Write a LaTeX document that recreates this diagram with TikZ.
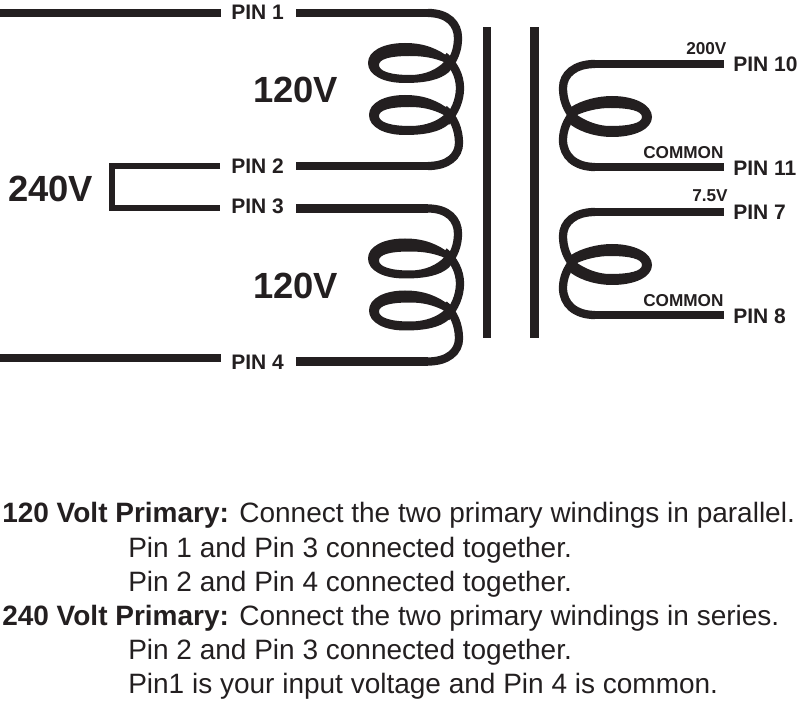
\documentclass[tikz,border=0pt]{standalone}
\usepackage{fontspec}
\setmainfont{Liberation Sans}
\definecolor{ink}{HTML}{231F20}
\tikzset{
  x=0.75pt,y=-0.75pt,
  wire/.style={draw=ink,line width=6.2pt,line cap=butt,line join=miter},
  thin wire/.style={draw=ink,line width=5pt,line cap=butt,line join=miter},
  bar/.style={fill=ink,draw=none},
  loopfill/.style={fill=ink,draw=none,even odd rule},
  txt/.style={anchor=base west,inner sep=0pt,text=ink},
  pinlab/.style={txt,font=\fontsize{15.75pt}{18pt}\selectfont\bfseries},
  biglab/.style={txt,font=\fontsize{27.3pt}{30pt}\selectfont\bfseries},
  smalllab/.style={txt,font=\fontsize{12.9pt}{15pt}\selectfont\bfseries},
  notelab/.style={txt,font=\fontsize{21pt}{24pt}\selectfont},
  primary/.pic={
    \draw[wire] (428,13) .. controls (448,13) and (458,24) .. (458,38)
      .. controls (458,50) and (454,60) .. (446,69);
    \draw[wire] (444,56) .. controls (454,64) and (460,76) .. (460,88)
      .. controls (460,100) and (455,112) .. (446,122);
    \draw[wire] (444,109) .. controls (454,117) and (459,130) .. (459,143)
      .. controls (459,156) and (448,166) .. (428,166);
    \fill[loopfill] (405,43) .. controls (383,43) and (368,51) .. (368,63)
      .. controls (368,75) and (383,83) .. (405,83)
      .. controls (425,83) and (440,80) .. (449,72) -- (450,58)
      .. controls (438,49) and (425,43) .. (405,43) -- cycle
      (444,62) .. controls (434,58) and (424,56) .. (410,56)
      .. controls (390,56) and (379,59) .. (379,65)
      .. controls (379,71) and (390,75) .. (410,75)
      .. controls (426,75) and (437,69) .. (444,62) -- cycle;
    \fill[loopfill] (405,95) .. controls (384,95) and (369,103) .. (369,115)
      .. controls (369,127) and (384,135) .. (405,135)
      .. controls (425,135) and (440,132) .. (449,124) -- (450,110)
      .. controls (438,101) and (425,95) .. (405,95) -- cycle
      (444,115) .. controls (434,110) and (424,107) .. (410,107)
      .. controls (390,107) and (379,110) .. (379,116)
      .. controls (379,122) and (390,126) .. (410,126)
      .. controls (426,126) and (437,121) .. (444,115) -- cycle;
  },
  secondary/.pic={
    \draw[wire] (595,64) .. controls (575,64) and (563,74) .. (563,88)
      .. controls (563,100) and (567,110) .. (575,119);
    \draw[wire] (575,111) .. controls (567,120) and (563,130) .. (563,140)
      .. controls (563,156) and (575,167) .. (595,167);
    \fill[loopfill] (612,96) .. controls (598,96) and (582,100) .. (571,107) -- (571,125)
      .. controls (582,133) and (598,137) .. (612,137)
      .. controls (635,137) and (652,129) .. (652,117)
      .. controls (652,105) and (635,96) .. (612,96) -- cycle
      (610,108) .. controls (598,108) and (586,111) .. (577,115)
      .. controls (586,121) and (598,126) .. (610,126)
      .. controls (630,126) and (642,123) .. (642,117)
      .. controls (642,111) and (630,108) .. (610,108) -- cycle;
  }
}
\begin{document}
\begin{tikzpicture}
\useasboundingbox (0,0) rectangle (800,702);
% lead end points
\coordinate (w1) at (0,13);      \coordinate (e1) at (221,13);
\coordinate (c1a) at (296,13);   \coordinate (c1b) at (428,13);
\coordinate (c2a) at (296,166);  \coordinate (c2b) at (428,166);
\coordinate (c3a) at (296,208.5);\coordinate (c3b) at (428,208.5);
\coordinate (c4a) at (296,361.5);\coordinate (c4b) at (428,361.5);
\coordinate (w4) at (0,358);     \coordinate (e4) at (221,358);
\coordinate (b2) at (220,166);   \coordinate (bl2) at (112,166);
\coordinate (b3) at (220,208);   \coordinate (bl3) at (112,208);
\coordinate (s10a) at (595,64);  \coordinate (s10b) at (724,64);
\coordinate (s11a) at (595,167); \coordinate (s11b) at (724,167);
\coordinate (s7a) at (595,212);  \coordinate (s7b) at (724,212);
\coordinate (s8a) at (595,315);  \coordinate (s8b) at (724,315);
% leads
\draw[wire] (w1) -- (e1);
\draw[wire] (w4) -- (e4);
\draw[wire] (c1a) -- (c1b);
\draw[wire] (c2a) -- (c2b);
\draw[wire] (c3a) -- (c3b);
\draw[wire] (c4a) -- (c4b);
\draw[thin wire] (b2) -- (bl2) -- (bl3) -- (b3);
\draw[wire] (s10a) -- (s10b);
\draw[wire] (s11a) -- (s11b);
\draw[wire] (s7a) -- (s7b);
\draw[wire] (s8a) -- (s8b);
% coils
\pic at (0,0) {primary};
\pic at (0,195.5) {primary};
\pic at (0,0) {secondary};
\pic at (0,148) {secondary};
% core
\fill[bar] (483,27) rectangle (491,338);
\fill[bar] (530,27) rectangle (538.5,338);
% labels
\node[pinlab] (pin1) at (231,20) {PIN 1};
\node[pinlab] (pin2) at (231,174) {PIN 2};
\node[pinlab] (pin3) at (231,214) {PIN 3};
\node[pinlab] (pin4) at (231,369) {PIN 4};
\node[pinlab] (pin10) at (733,72) {PIN 10};
\node[pinlab] (pin11) at (733,176) {PIN 11};
\node[pinlab] (pin7) at (733,220) {PIN 7};
\node[pinlab] (pin8) at (733,324) {PIN 8};
\node[biglab] (v1) at (253,103) {120V};
\node[biglab] (v2) at (253,299) {120V};
\node[biglab] (v3) at (8,202) {240V};
\node[smalllab] (t200) at (686,55) {200V};
\node[smalllab] (tc1) at (643,159) {COMMON};
\node[smalllab] (t75) at (692,202) {7.5V};
\node[smalllab] (tc2) at (643,307) {COMMON};
\node[notelab] (n1) at (2,522) {\textbf{120 Volt Primary:} Connect the two primary windings in parallel.};
\node[notelab] (n2) at (128,557) {Pin 1 and Pin 3 connected together.};
\node[notelab] (n3) at (128,591) {Pin 2 and Pin 4 connected together.};
\node[notelab] (n4) at (2,625) {\textbf{240 Volt Primary:} Connect the two primary windings in series.};
\node[notelab] (n5) at (128,659) {Pin 2 and Pin 3 connected together.};
\node[notelab] (n6) at (128,693) {Pin1 is your input voltage and Pin 4 is common.};
\end{tikzpicture}
\end{document}
